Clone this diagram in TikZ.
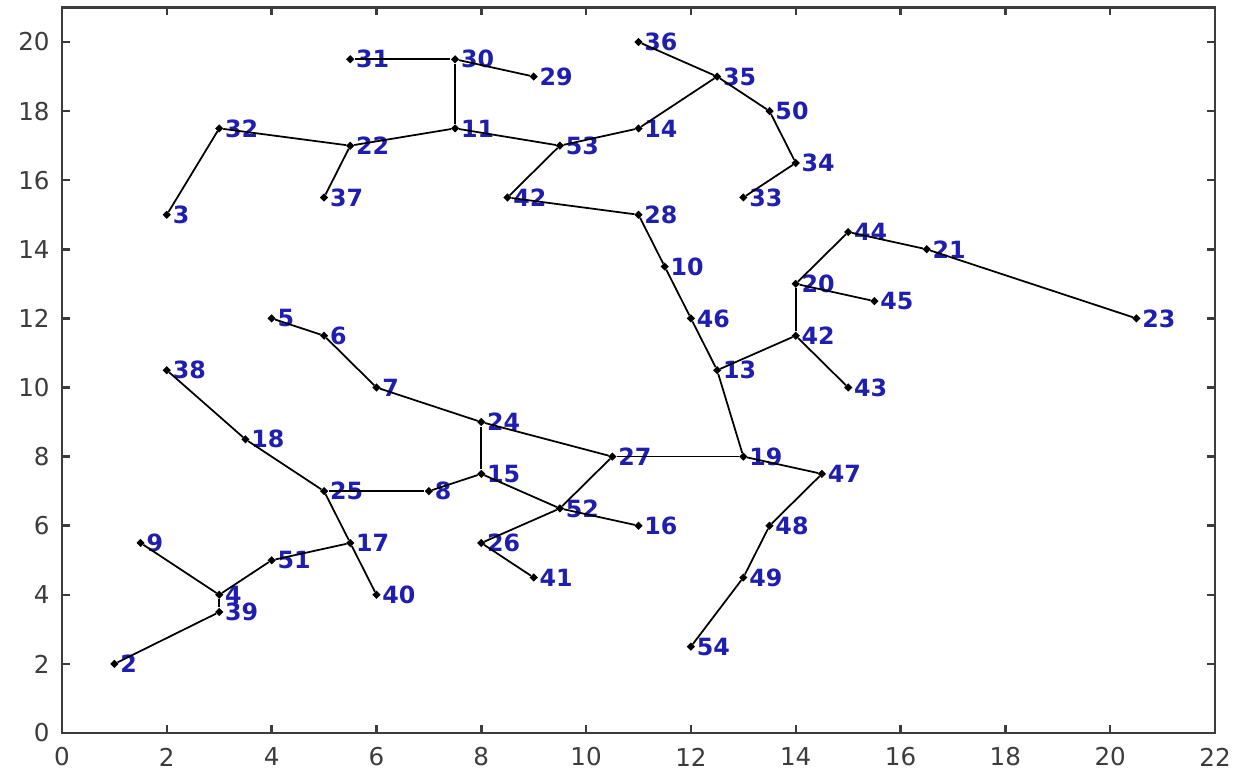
\documentclass[tikz,border=0pt]{standalone}
\usepackage{fontspec}
\usepackage{xcolor}
\usepackage{tikz}
\usetikzlibrary{shapes.geometric}

\newfontfamily\plotfont{DejaVu Sans}
\definecolor{lblblue}{RGB}{30,30,175}
\definecolor{axisgray}{RGB}{60,60,60}

\tikzset{
    vtx/.style={diamond, fill=black, inner sep=0pt, minimum size=0.17cm},
    every label/.style={text=lblblue, inner sep=0pt, font=\plotfont\bfseries\fontsize{13.5}{16}\selectfont},
    edge/.style={line width=1pt, black},
    frame/.style={line width=1.4pt, axisgray},
    ticklbl/.style={text=axisgray, inner sep=0pt, font=\plotfont\fontsize{14}{16}\selectfont}
}

\begin{document}
\begin{tikzpicture}[x=1.0482cm, y=0.691cm, label distance=0.02cm]
        \useasboundingbox (-1.183,-1.245) rectangle (22.515,21.216);

        % axes box
        \draw[frame] (0,0) rectangle (22,21);
        \foreach \x in {0,2,...,22} {
            \draw[frame] (\x,0) -- ++(0,0.16cm);
            \draw[frame] (\x,21) -- ++(0,-0.16cm);
            \node[ticklbl] (xt\x) at ([yshift=-0.48cm]\x,0) {\x};
        }
        \foreach \y in {0,2,...,20} {
            \draw[frame] (0,\y) -- ++(0.16cm,0);
            \draw[frame] (22,\y) -- ++(-0.16cm,0);
            \node[ticklbl, anchor=east] (yt\y) at ([xshift=-0.24cm]0,\y) {\y};
        }

        % vertices
        \node[vtx, label=right:2] (n2) at (1,2) {};
        \node[vtx, label=right:3] (n3) at (2,15) {};
        \node[vtx, label=right:4] (n4) at (3,4) {};
        \node[vtx, label=right:5] (n5) at (4,12) {};
        \node[vtx, label=right:6] (n6) at (5,11.5) {};
        \node[vtx, label=right:7] (n7) at (6,10) {};
        \node[vtx, label=right:8] (n8) at (7,7) {};
        \node[vtx, label=right:9] (n9) at (1.5,5.5) {};
        \node[vtx, label=right:10] (n10) at (11.5,13.5) {};
        \node[vtx, label=right:11] (n11) at (7.5,17.5) {};
        \node[vtx, label=right:42] (n12) at (8.5,15.5) {};
        \node[vtx, label=right:13] (n13) at (12.5,10.5) {};
        \node[vtx, label=right:14] (n14) at (11,17.5) {};
        \node[vtx, label=right:15] (n15) at (8,7.5) {};
        \node[vtx, label=right:16] (n16) at (11,6) {};
        \node[vtx, label=right:17] (n17) at (5.5,5.5) {};
        \node[vtx, label=right:18] (n18) at (3.5,8.5) {};
        \node[vtx, label=right:19] (n19) at (13,8) {};
        \node[vtx, label=right:20] (n20) at (14,13) {};
        \node[vtx, label=right:21] (n21) at (16.5,14) {};
        \node[vtx, label=right:22] (n22) at (5.5,17) {};
        \node[vtx, label=right:23] (n23) at (20.5,12) {};
        \node[vtx, label=right:24] (n24) at (8,9) {};
        \node[vtx, label=right:25] (n25) at (5,7) {};
        \node[vtx, label=right:26] (n26) at (8,5.5) {};
        \node[vtx, label=right:27] (n27) at (10.5,8) {};
        \node[vtx, label=right:28] (n28) at (11,15) {};
        \node[vtx, label=right:29] (n29) at (9,19) {};
        \node[vtx, label=right:30] (n30) at (7.5,19.5) {};
        \node[vtx, label=right:31] (n31) at (5.5,19.5) {};
        \node[vtx, label=right:32] (n32) at (3,17.5) {};
        \node[vtx, label=right:33] (n33) at (13,15.5) {};
        \node[vtx, label=right:34] (n34) at (14,16.5) {};
        \node[vtx, label=right:35] (n35) at (12.5,19) {};
        \node[vtx, label=right:36] (n36) at (11,20) {};
        \node[vtx, label=right:37] (n37) at (5,15.5) {};
        \node[vtx, label=right:38] (n38) at (2,10.5) {};
        \node[vtx, label=right:39] (n39) at (3,3.5) {};
        \node[vtx, label=right:40] (n40) at (6,4) {};
        \node[vtx, label=right:41] (n41) at (9,4.5) {};
        \node[vtx, label=right:42] (n42) at (14,11.5) {};
        \node[vtx, label=right:43] (n43) at (15,10) {};
        \node[vtx, label=right:44] (n44) at (15,14.5) {};
        \node[vtx, label=right:45] (n45) at (15.5,12.5) {};
        \node[vtx, label=right:46] (n46) at (12,12) {};
        \node[vtx, label=right:47] (n47) at (14.5,7.5) {};
        \node[vtx, label=right:48] (n48) at (13.5,6) {};
        \node[vtx, label=right:49] (n49) at (13,4.5) {};
        \node[vtx, label=right:50] (n50) at (13.5,18) {};
        \node[vtx, label=right:51] (n51) at (4,5) {};
        \node[vtx, label=right:52] (n52) at (9.5,6.5) {};
        \node[vtx, label=right:53] (n53) at (9.5,17) {};
        \node[vtx, label=right:54] (n54) at (12,2.5) {};

        % edges
        \draw[edge] (n2) -- (n39);
        \draw[edge] (n39) -- (n4);
        \draw[edge] (n4) -- (n9);
        \draw[edge] (n4) -- (n51);
        \draw[edge] (n51) -- (n17);
        \draw[edge] (n17) -- (n25);
        \draw[edge] (n17) -- (n40);
        \draw[edge] (n25) -- (n18);
        \draw[edge] (n18) -- (n38);
        \draw[edge] (n25) -- (n8);
        \draw[edge] (n8) -- (n15);
        \draw[edge] (n15) -- (n24);
        \draw[edge] (n24) -- (n7);
        \draw[edge] (n7) -- (n6);
        \draw[edge] (n6) -- (n5);
        \draw[edge] (n24) -- (n27);
        \draw[edge] (n15) -- (n52);
        \draw[edge] (n52) -- (n16);
        \draw[edge] (n52) -- (n27);
        \draw[edge] (n52) -- (n26);
        \draw[edge] (n26) -- (n41);
        \draw[edge] (n27) -- (n19);
        \draw[edge] (n19) -- (n13);
        \draw[edge] (n19) -- (n47);
        \draw[edge] (n47) -- (n48);
        \draw[edge] (n48) -- (n49);
        \draw[edge] (n49) -- (n54);
        \draw[edge] (n13) -- (n46);
        \draw[edge] (n46) -- (n10);
        \draw[edge] (n10) -- (n28);
        \draw[edge] (n28) -- (n12);
        \draw[edge] (n12) -- (n53);
        \draw[edge] (n53) -- (n11);
        \draw[edge] (n53) -- (n14);
        \draw[edge] (n14) -- (n35);
        \draw[edge] (n35) -- (n36);
        \draw[edge] (n35) -- (n50);
        \draw[edge] (n50) -- (n34);
        \draw[edge] (n34) -- (n33);
        \draw[edge] (n11) -- (n30);
        \draw[edge] (n30) -- (n31);
        \draw[edge] (n30) -- (n29);
        \draw[edge] (n11) -- (n22);
        \draw[edge] (n22) -- (n32);
        \draw[edge] (n32) -- (n3);
        \draw[edge] (n22) -- (n37);
        \draw[edge] (n13) -- (n42);
        \draw[edge] (n42) -- (n20);
        \draw[edge] (n42) -- (n43);
        \draw[edge] (n20) -- (n44);
        \draw[edge] (n20) -- (n45);
        \draw[edge] (n44) -- (n21);
        \draw[edge] (n21) -- (n23);
\end{tikzpicture}
\end{document}
